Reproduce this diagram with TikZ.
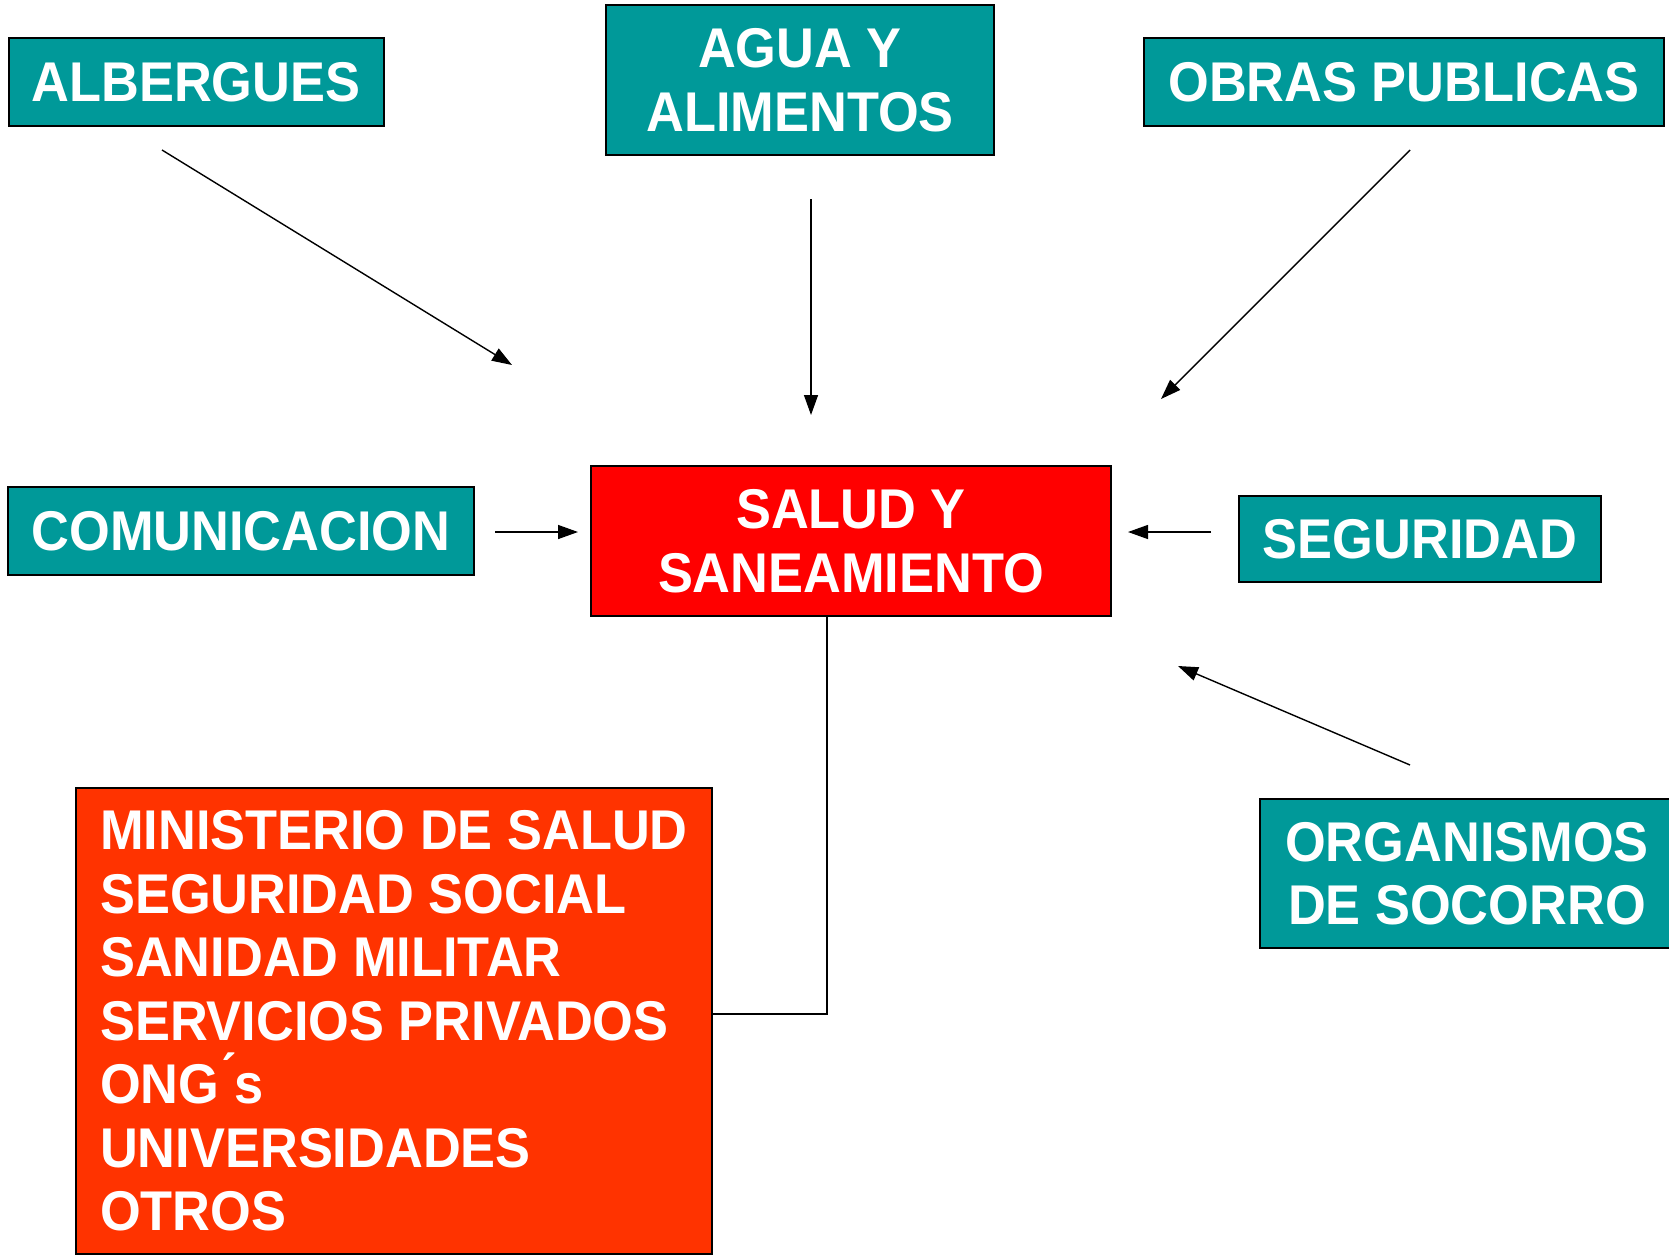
\documentclass[tikz,border=0pt]{standalone}
\usepackage{fontspec}
\setmainfont{Liberation Sans}[FakeStretch=0.935]
\usetikzlibrary{arrows.meta}
\definecolor{tealbox}{HTML}{009999}
\definecolor{redbox}{HTML}{FF0000}
\definecolor{orangebox}{HTML}{FF3300}
\begin{document}
\begin{tikzpicture}[x=1pt,y=-1pt,
  box/.style={draw=black, line width=2pt, fill=tealbox, text=white, inner sep=0pt,
    align=center, font=\fontsize{56}{63.5}\selectfont\bfseries},
  conn/.style={draw=black, line width=1.4pt, -{Triangle[length=20pt,width=14pt]}},
  link/.style={draw=black, line width=1.5pt}]
\useasboundingbox (0,0) rectangle (1669,1258);
\fill[white] (0,0) rectangle (1669,1258);

\node[box, minimum width=375pt, minimum height=88pt] (alb) at (196,82) {ALBERGUES};
\node[box, minimum width=388pt, minimum height=150pt] (agua) at (800,80) {AGUA Y\\ALIMENTOS};
\node[box, minimum width=520pt, minimum height=88pt] (obras) at (1404,82) {OBRAS PUBLICAS};
\node[box, minimum width=466pt, minimum height=88pt] (com) at (241,531) {COMUNICACION};
\node[box, fill=redbox, minimum width=520pt, minimum height=150pt] (salud) at (851,541) {SALUD Y\\SANEAMIENTO};
\node[box, minimum width=362pt, minimum height=86pt] (seg) at (1420,539) {SEGURIDAD};
\node[box, minimum width=414pt, minimum height=149pt] (org) at (1467,873.5) {ORGANISMOS\\DE SOCORRO};
\node[box, fill=orangebox, minimum width=636pt, minimum height=466pt, align=left] (min) at (394,1021)
  {MINISTERIO DE SALUD\\SEGURIDAD SOCIAL\\SANIDAD MILITAR\\SERVICIOS PRIVADOS\\ONG\'{}s\\UNIVERSIDADES\\OTROS};

\coordinate (albS) at (162,150);  \coordinate (albE) at (512,365);
\coordinate (aguaS) at (811,199); \coordinate (aguaE) at (811,415);
\coordinate (obrS) at (1410,150); \coordinate (obrE) at (1161,399);
\coordinate (comS) at (495,532);  \coordinate (comE) at (578,532);
\coordinate (segS) at (1211,532); \coordinate (segE) at (1128,532);
\coordinate (orgS) at (1410,765); \coordinate (orgE) at (1178,666);
\coordinate (elbow) at (827,1014);

\draw[conn] (albS) -- (albE);
\draw[conn] (aguaS) -- (aguaE);
\draw[conn] (obrS) -- (obrE);
\draw[conn] (comS) -- (comE);
\draw[conn] (segS) -- (segE);
\draw[conn] (orgS) -- (orgE);
\draw[link] (salud.south -| elbow) -- (elbow) -- (min.east |- elbow);
\end{tikzpicture}
\end{document}
